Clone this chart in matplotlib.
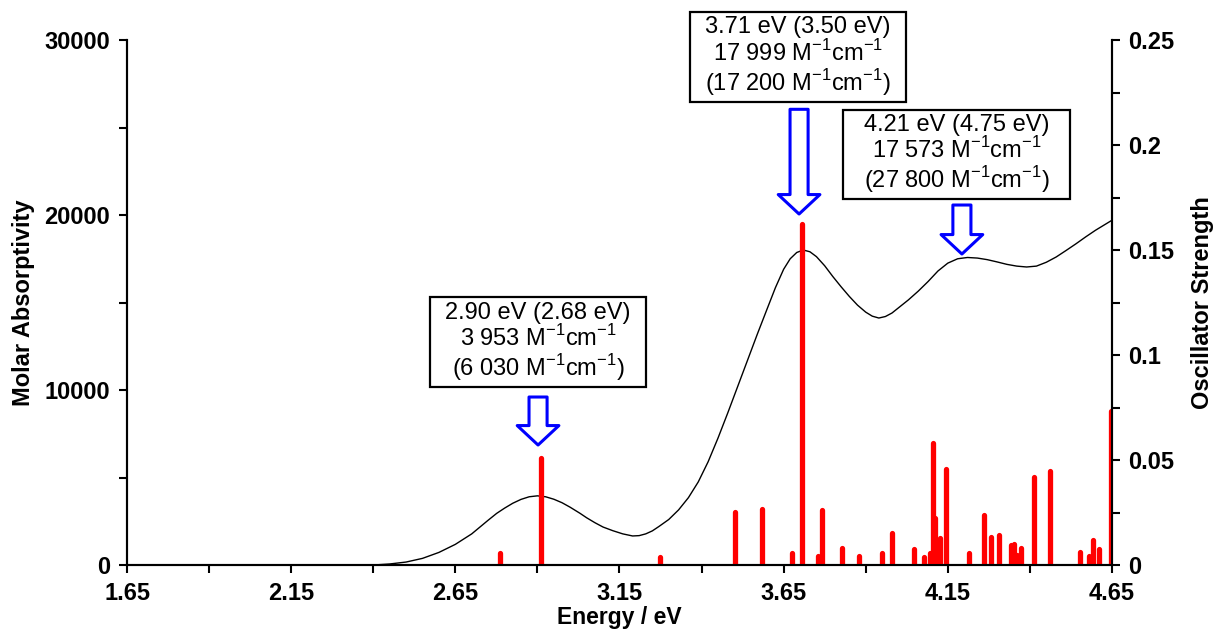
import numpy as np
import matplotlib.pyplot as plt
import matplotlib.patches as mpatches
from matplotlib.ticker import FixedLocator, FuncFormatter

plt.rcParams['font.family'] = ['Liberation Sans', 'DejaVu Sans']
plt.rcParams['mathtext.fontset'] = 'custom'
plt.rcParams['mathtext.rm'] = 'Liberation Sans'

# simulated spectrum
spec_e = [1.65, 2.30, 2.40, 2.45, 2.50, 2.55, 2.60, 2.65, 2.70, 2.75, 2.776, 2.80,
          2.825, 2.85, 2.875, 2.90, 2.925, 2.95, 2.975, 3.00, 3.03, 3.05, 3.075, 3.10,
          3.13, 3.16, 3.19, 3.21, 3.23, 3.25, 3.27, 3.30, 3.33, 3.36, 3.39, 3.42,
          3.45, 3.48, 3.51, 3.54, 3.57, 3.60, 3.625, 3.65, 3.67, 3.69, 3.71, 3.73,
          3.75, 3.775, 3.80, 3.825, 3.85, 3.875, 3.90, 3.92, 3.94, 3.96, 3.98, 4.00,
          4.03, 4.06, 4.09, 4.12, 4.15, 4.18, 4.21, 4.24, 4.27, 4.30, 4.33, 4.36,
          4.39, 4.42, 4.45, 4.48, 4.51, 4.54, 4.57, 4.60, 4.65]
spec_eps = [0, 0, 0, 60, 170, 380, 720, 1180, 1780, 2560, 2952, 3250,
            3530, 3750, 3900, 3953, 3900, 3760, 3560, 3300, 2952, 2700, 2420, 2170,
            1960, 1780, 1660, 1680, 1780, 1950, 2200, 2600, 3150, 3850, 4750, 5900,
            7250, 8700, 10200, 11700, 13200, 14650, 15850, 16900, 17500, 17860, 17999, 17900,
            17620, 17100, 16480, 15900, 15350, 14850, 14450, 14220, 14114, 14200, 14400, 14700,
            15150, 15650, 16200, 16800, 17250, 17500, 17573, 17540, 17450, 17320, 17180, 17080,
            17030, 17080, 17300, 17600, 17970, 18350, 18750, 19130, 19700]

# calculated transitions
stick_e = [2.786, 2.911, 3.274, 3.502, 3.583, 3.675, 3.705, 3.756, 3.766, 3.827,
           3.880, 3.951, 3.981, 4.047, 4.076, 4.096, 4.106, 4.111, 4.126, 4.144,
           4.215, 4.261, 4.281, 4.305, 4.343, 4.352, 4.360, 4.372, 4.412, 4.461,
           4.553, 4.581, 4.593, 4.612, 4.647]
stick_f = [0.0056, 0.0508, 0.0040, 0.0254, 0.0265, 0.0056, 0.1624, 0.0043, 0.0262, 0.0079,
           0.0044, 0.0059, 0.0154, 0.0075, 0.0037, 0.0059, 0.0583, 0.0224, 0.0127, 0.0456,
           0.0059, 0.0238, 0.0132, 0.0143, 0.0095, 0.0100, 0.0048, 0.0079, 0.0418, 0.0448,
           0.0060, 0.0044, 0.0119, 0.0075, 0.0735]

x_major = [1.65, 2.15, 2.65, 3.15, 3.65, 4.15, 4.65]
x_minor = [1.90, 2.40, 2.90, 3.40, 3.90, 4.40]

# annotated bands: box extents (eV, M-1cm-1) and arrows
sup = r'M$^{\mathregular{-1}}$cm$^{\mathregular{-1}}$'
band_labels = ['2.90 eV (2.68 eV)\n3 953 ' + sup + '\n(6 030 ' + sup + ')',
               '3.71 eV (3.50 eV)\n17 999 ' + sup + '\n(17 200 ' + sup + ')',
               '4.21 eV (4.75 eV)\n17 573 ' + sup + '\n(27 800 ' + sup + ')']
box_x = [(2.573, 3.231), (3.365, 4.023), (3.831, 4.522)]
box_y = [(10171, 15314), (26457, 31600), (20914, 26000)]
arrow_x = [2.902, 3.697, 4.193]
arrow_top = [9600, 26040, 20571]
arrow_tip = [6857, 20057, 17771]

fig = plt.figure(figsize=(12.13, 6.35), dpi=100)
ax = fig.add_axes([0.1047, 0.1102, 0.8120, 0.8268])
ax2 = ax.twinx()

ax.plot(spec_e, spec_eps, color='black', lw=1.0)
sticks = ax2.vlines(stick_e, 0, stick_f, color='red', lw=3.8)
sticks.set_capstyle('round')

ax.set_xlim(1.65, 4.65)
ax.set_ylim(0, 30000)
ax2.set_ylim(0, 0.25)

ax.xaxis.set_major_locator(FixedLocator(x_major))
ax.xaxis.set_minor_locator(FixedLocator(x_minor))
ax.xaxis.set_major_formatter(FuncFormatter(lambda v, p: '%.2f' % v))
ax.yaxis.set_major_locator(FixedLocator([0, 10000, 20000, 30000]))
ax.yaxis.set_minor_locator(FixedLocator([5000, 15000, 25000]))
ax2.yaxis.set_major_locator(FixedLocator([0, 0.05, 0.1, 0.15, 0.2, 0.25]))
ax2.yaxis.set_minor_locator(FixedLocator([0.025, 0.075, 0.125, 0.175, 0.225]))
ax2.yaxis.set_major_formatter(FuncFormatter(lambda v, p: '%g' % round(v, 3)))

for a in (ax, ax2):
    for s in a.spines.values():
        s.set_linewidth(1.5)
    a.spines['top'].set_visible(False)
    a.tick_params(which='both', direction='out', length=6, width=1.5)
    a.tick_params(which='major', labelsize=17, pad=6)
    for lab in a.get_xticklabels() + a.get_yticklabels():
        lab.set_fontweight('bold')

ax.set_xlabel('Energy / eV', fontsize=16.5, fontweight='bold', labelpad=1)
ax.set_ylabel('Molar Absorptivity', fontsize=17, fontweight='bold', labelpad=7)
ax2.set_ylabel('Oscillator Strength', fontsize=17, fontweight='bold', labelpad=12)

for (x0, x1), (y0, y1), txt in zip(box_x, box_y, band_labels):
    ax.add_patch(mpatches.Rectangle((x0, y0), x1 - x0, y1 - y0, fc='white', ec='black',
                                    lw=1.6, clip_on=False, zorder=5))
    ax.text((x0 + x1) / 2, (y0 + y1) / 2, txt, ha='center', va='center', fontsize=17,
            linespacing=1.05, zorder=6, clip_on=False)

for x, y0, y1 in zip(arrow_x, arrow_top, arrow_tip):
    arr = mpatches.FancyArrowPatch((x, y0), (x, y1),
                                   arrowstyle=mpatches.ArrowStyle.Simple(head_length=14, head_width=30, tail_width=13),
                                   fc='white', ec='blue', lw=2.2, shrinkA=0, shrinkB=0, zorder=5)
    ax.add_patch(arr)

fig.savefig('out.png', dpi=100)
